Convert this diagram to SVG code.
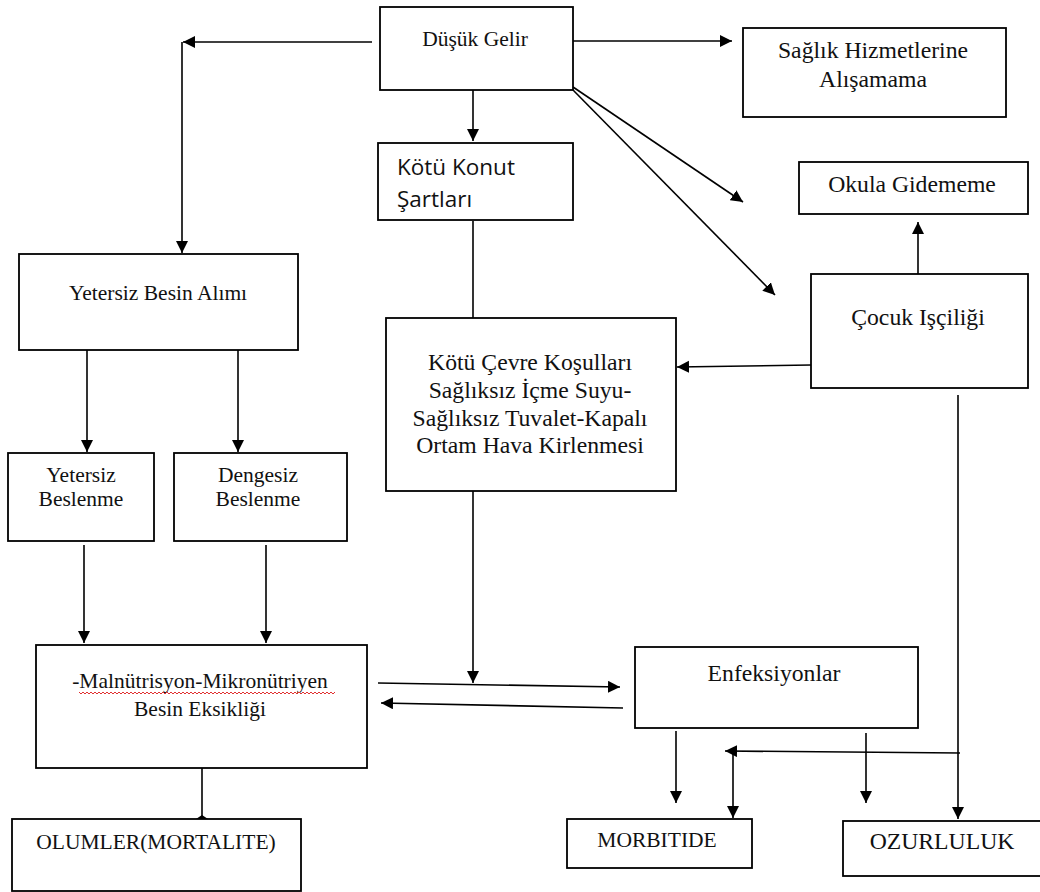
<svg xmlns="http://www.w3.org/2000/svg" width="1040" height="892" viewBox="0 0 1040 892">
<defs>
<marker id="ah" markerUnits="userSpaceOnUse" markerWidth="13" markerHeight="13" refX="12" refY="6" orient="auto">
<path d="M0,0 L12,6 L0,12 z" fill="#000"/>
</marker>
<style>
.box{fill:#fff;stroke:#000;stroke-width:1.8}
.t{font-family:"Liberation Serif","Times New Roman",serif;fill:#111;text-anchor:middle}
.s{font-size:21.5px}
.l{font-size:23.7px}
.sans{font-family:"Open Sans","Liberation Sans",sans-serif;font-size:22.5px;fill:#111}
.c{fill:none;stroke:#000;stroke-width:1.6}
.a{marker-end:url(#ah)}
</style>
</defs>
<rect width="1040" height="892" fill="#fff"/>
<g id="connectors">
<path class="c a" d="M372,42 H183"/>
<path class="c a" d="M182,42 V253"/>
<path class="c a" d="M573,41 H732"/>
<path class="c a" d="M473,90 V141"/>
<path class="c a" d="M573,87 L743,202"/>
<path class="c a" d="M573,90 L775,295"/>
<path class="c a" d="M918,274 V222"/>
<path class="c" d="M473,221 V318"/>
<path class="c a" d="M811,365 L677,367"/>
<path class="c a" d="M473,491 V683"/>
<path class="c a" d="M87,350 V452"/>
<path class="c a" d="M238,350 V452"/>
<path class="c a" d="M84,545 V643"/>
<path class="c a" d="M266,545 V643"/>
<path class="c" d="M202,768 V819"/>
<path d="M196,819 L202,815 L208,819 z" fill="#000"/>
<path class="c a" d="M378,683 L620,687"/>
<path class="c a" d="M623,708 L381,703"/>
<path class="c a" d="M676,731 V803"/>
<path class="c a" d="M866,733 V803"/>
<path class="c a" d="M958,395 V819"/>
<path class="c a" d="M960,753 L725,751"/>
<path class="c a" d="M733,752 V818"/>
</g>
<g id="n-dusuk-gelir">
<rect class="box" x="380" y="7" width="193" height="83"/>
<text class="t s" x="475" y="46">Düşük Gelir</text>
</g>
<g id="n-saglik">
<rect class="box" x="743" y="28" width="263" height="89"/>
<text class="t l" x="873" y="58">Sağlık Hizmetlerine</text>
<text class="t l" x="873" y="87">Alışamama</text>
</g>
<g id="n-kotu-konut">
<rect class="box" x="378" y="143" width="195" height="77"/>
<text class="sans" x="397" y="175">Kötü Konut</text>
<text class="sans" x="397" y="207">Şartları</text>
</g>
<g id="n-okula">
<rect class="box" x="799" y="162" width="229" height="52"/>
<text class="t l" x="912" y="192">Okula Gidememe</text>
</g>
<g id="n-yetersiz-besin">
<rect class="box" x="19" y="254" width="279" height="96"/>
<text class="t s" x="158" y="300">Yetersiz Besin Alımı</text>
</g>
<g id="n-kotu-cevre">
<rect class="box" x="386" y="318" width="290" height="173"/>
<text class="t l" x="530" y="370">Kötü Çevre Koşulları</text>
<text class="t l" x="530" y="398">Sağlıksız İçme Suyu-</text>
<text class="t l" x="530" y="426">Sağlıksız Tuvalet-Kapalı</text>
<text class="t l" x="530" y="453">Ortam Hava Kirlenmesi</text>
</g>
<g id="n-cocuk">
<rect class="box" x="811" y="274" width="217" height="114"/>
<text class="t l" x="918" y="325">Çocuk Işçiliği</text>
</g>
<g id="n-yetersiz-beslenme">
<rect class="box" x="8" y="453" width="146" height="88"/>
<text class="t s" x="81" y="482">Yetersiz</text>
<text class="t s" x="81" y="506">Beslenme</text>
</g>
<g id="n-dengesiz">
<rect class="box" x="174" y="453" width="173" height="88"/>
<text class="t s" x="258" y="482">Dengesiz</text>
<text class="t s" x="258" y="506">Beslenme</text>
</g>
<g id="n-malnutrisyon">
<rect class="box" x="36" y="645" width="331" height="123"/>
<text class="t s" x="200" y="688">-Malnütrisyon-Mikronütriyen</text>
<path d="M79,692 l2,2 l2,-2 l2,2 l2,-2 l2,2 l2,-2 l2,2 l2,-2 l2,2 l2,-2 l2,2 l2,-2 l2,2 l2,-2 l2,2 l2,-2 l2,2 l2,-2 l2,2 l2,-2 l2,2 l2,-2 l2,2 l2,-2 l2,2 l2,-2 l2,2 l2,-2 l2,2 l2,-2 l2,2 l2,-2 l2,2 l2,-2 l2,2 l2,-2 l2,2 l2,-2 l2,2 l2,-2 l2,2 l2,-2 l2,2 l2,-2 l2,2 l2,-2 l2,2 l2,-2 l2,2 l2,-2 l2,2 l2,-2 l2,2 l2,-2 l2,2 l2,-2 l2,2 l2,-2 l2,2 l2,-2 l2,2 l2,-2 l2,2 l2,-2 l2,2 l2,-2 l2,2 l2,-2 l2,2 l2,-2 l2,2 l2,-2 l2,2 l2,-2 l2,2 l2,-2 l2,2 l2,-2 l2,2 l2,-2 l2,2 l2,-2 l2,2 l2,-2 l2,2 l2,-2 l2,2 l2,-2 l2,2 l2,-2 l2,2 l2,-2 l2,2 l2,-2 l2,2 l2,-2 l2,2 l2,-2 l2,2 l2,-2 l2,2 l2,-2 l2,2 l2,-2 l2,2 l2,-2 l2,2 l2,-2 l2,2 l2,-2 l2,2 l2,-2 l2,2 l2,-2 l2,2 l2,-2 l2,2 l2,-2 l2,2 l2,-2 l2,2 l2,-2 l2,2 l2,-2 l2,2 l2,-2 l2,2 l2,-2" fill="none" stroke="#e03030" stroke-width="1"/>
<text class="t s" x="200" y="716">Besin Eksikliği</text>
</g>
<g id="n-enfeksiyonlar">
<rect class="box" x="635" y="647" width="283" height="81"/>
<text class="t l" x="774" y="681">Enfeksiyonlar</text>
</g>
<g id="n-olumler">
<rect class="box" x="12" y="819" width="289" height="72"/>
<text class="t s" x="156" y="849">OLUMLER(MORTALITE)</text>
</g>
<g id="n-morbitide">
<rect class="box" x="567" y="819" width="185" height="49"/>
<text class="t s" x="657" y="847">MORBITIDE</text>
</g>
<g id="n-ozurluluk">
<rect class="box" x="843" y="821" width="210" height="55"/>
<text class="t l" x="942" y="849">OZURLULUK</text>
</g>
</svg>
